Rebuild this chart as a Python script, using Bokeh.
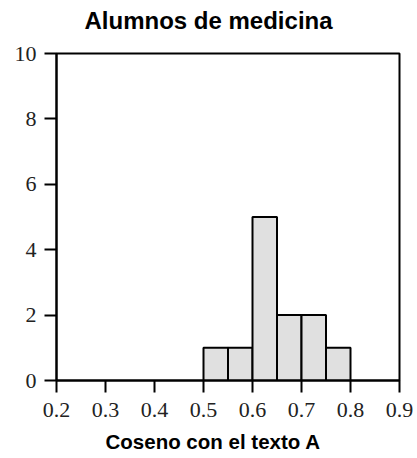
from bokeh.plotting import figure
from bokeh.models import Title, Range1d, FixedTicker, PrintfTickFormatter
from bokeh.embed import file_html
from bokeh.resources import INLINE

# Data
bin_edges = [0.5, 0.55, 0.6, 0.65, 0.7, 0.75, 0.8]
counts = [1, 1, 5, 2, 2, 1]
x_ticks = [0.2, 0.3, 0.4, 0.5, 0.6, 0.7, 0.8, 0.9]
y_ticks = [0, 2, 4, 6, 8, 10]
title_text = "Alumnos de medicina"
x_label_text = "Coseno con el texto A"

left_edges = bin_edges[:-1]
right_edges = bin_edges[1:]

p = figure(width=417, height=458,
           x_range=Range1d(0.2, 0.9), y_range=Range1d(0, 10),
           output_backend="svg", toolbar_location=None,
           min_border_left=56, min_border_right=18,
           min_border_top=52, min_border_bottom=78)

p.quad(left=left_edges, right=right_edges, bottom=0, top=counts,
       fill_color="#e0e0e0", line_color="black", line_width=2)

p.grid.visible = False
p.outline_line_color = "black"
p.outline_line_width = 2
p.outline_line_alpha = 1
p.background_fill_color = "white"
p.border_fill_color = "white"

for ax in (p.xaxis, p.yaxis):
    ax.axis_line_width = 2
    ax.axis_line_color = "black"
    ax.major_tick_line_width = 2
    ax.major_tick_line_color = "black"
    ax.major_tick_out = 12
    ax.major_tick_in = 0
    ax.minor_tick_out = 0
    ax.minor_tick_in = 0
    ax.major_label_text_font = "Liberation Serif"
    ax.major_label_text_font_size = "22px"
    ax.major_label_text_color = "#222222"

p.xaxis.ticker = FixedTicker(ticks=x_ticks)
p.xaxis.formatter = PrintfTickFormatter(format="%.1f")
p.yaxis.ticker = FixedTicker(ticks=y_ticks)
p.xaxis.major_label_standoff = 10
p.yaxis.major_label_standoff = 8

# spacer between frame and title (closest to frame), then the title
spacer = Title(text=" ", standoff=0, text_font="Liberation Sans",
               text_font_size="12px")
p.add_layout(spacer, "above")
main_title = Title(text=title_text, align="left", offset=28, standoff=8,
                   text_font="Liberation Sans", text_font_size="24px",
                   text_font_style="bold", text_color="black")
p.add_layout(main_title, "above")

# small spacer between the x axis and its label
bottom_spacer = Title(text=" ", standoff=0, text_font="Liberation Sans",
                      text_font_size="3px")
p.add_layout(bottom_spacer, "below")
xt = Title(text=x_label_text, align="left", offset=49, standoff=6,
           text_font="Liberation Sans", text_font_size="20.5px",
           text_font_style="bold", text_color="black")
p.add_layout(xt, "below")

open("out.html", "w").write(file_html(p, INLINE))
